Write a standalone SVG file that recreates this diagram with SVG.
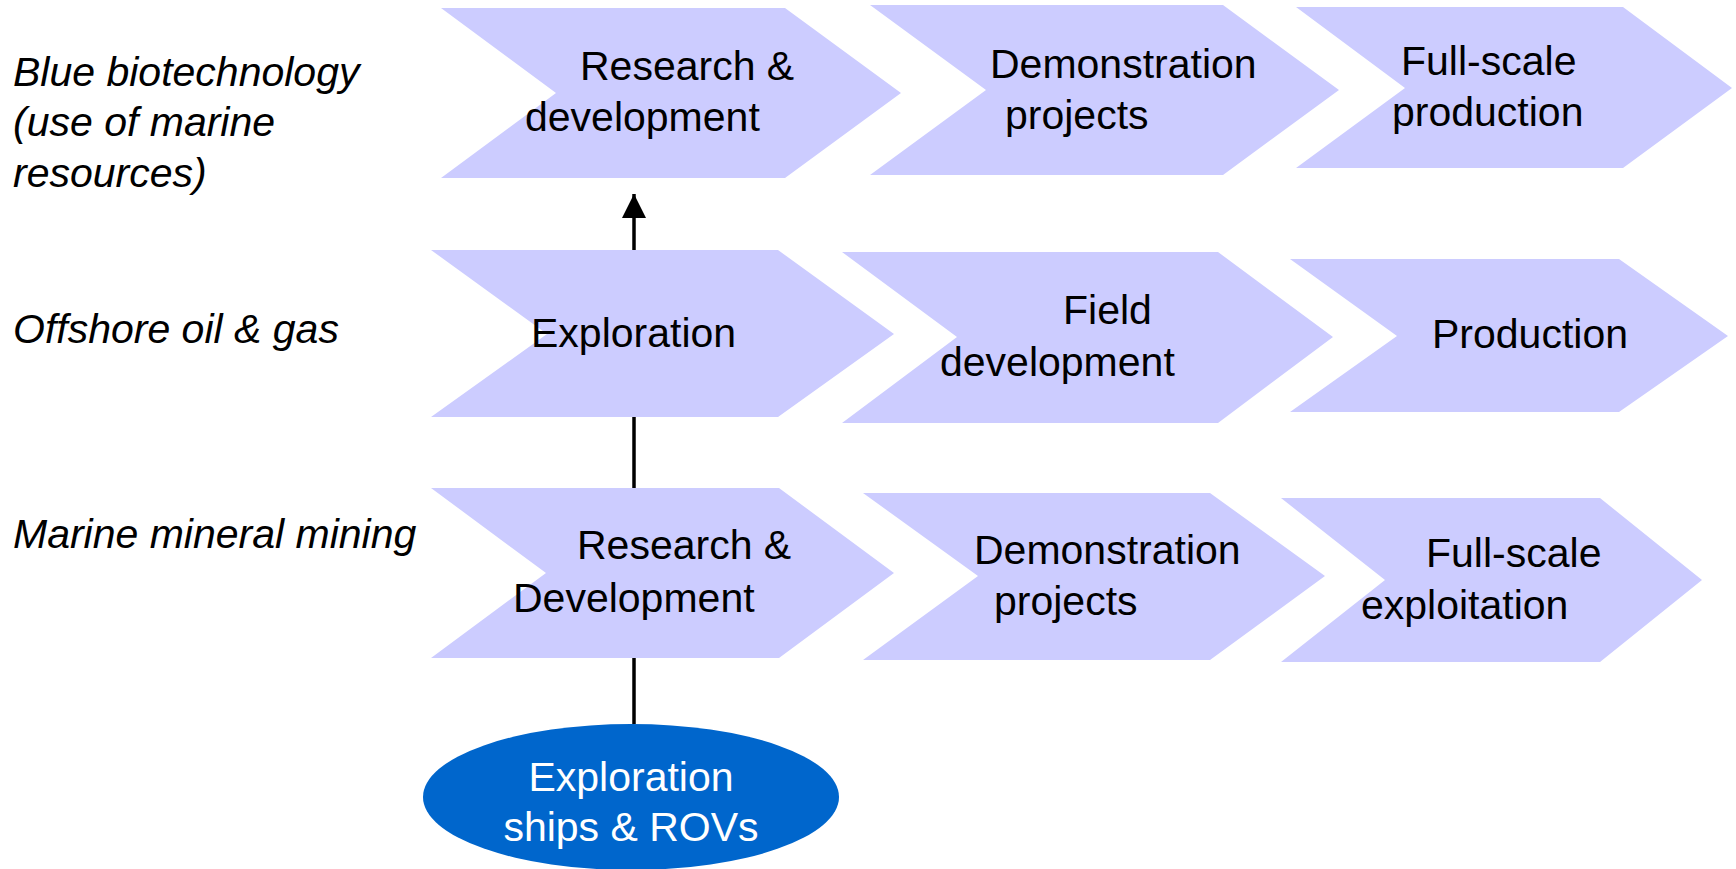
<svg xmlns="http://www.w3.org/2000/svg" width="1736" height="869" viewBox="0 0 1736 869">
<style>
.chev{fill:#ccccff;}
.t{font-family:"Liberation Sans",Arial,sans-serif;font-size:41px;fill:#000;}
.lbl{font-family:"Liberation Sans",Arial,sans-serif;font-size:41px;font-style:italic;fill:#000;}
.w{font-family:"Liberation Sans",Arial,sans-serif;font-size:41px;fill:#fff;text-anchor:middle;}
.conn{stroke:#000;stroke-width:3.5;fill:none;}
</style>
<defs>
<marker id="arr" markerUnits="userSpaceOnUse" markerWidth="24" markerHeight="24" viewBox="0 0 24 24" refX="24" refY="12" orient="auto">
<path d="M0,0 L24,12 L0,24 Z" fill="#000"/>
</marker>
</defs>
<rect width="1736" height="869" fill="#fff"/>
<g id="labels">
<text class="lbl" x="13" y="86">Blue biotechnology</text>
<text class="lbl" x="13" y="136">(use of marine</text>
<text class="lbl" x="13" y="187">resources)</text>
<text class="lbl" x="13" y="343">Offshore oil &amp; gas</text>
<text class="lbl" x="13" y="548">Marine mineral mining</text>
</g>
<g id="connectors">
<path class="conn" d="M634,724 L634,194" marker-end="url(#arr)"/>
</g>
<g id="a1"><polygon class="chev" points="441,8 785,8 901,93 785,178 441,178 556,93"/>
<text class="t" x="580" y="80">Research &amp;</text><text class="t" x="525" y="131">development</text></g>
<g id="a2"><polygon class="chev" points="870,5 1223,5 1339,90 1223,175 870,175 986,90"/>
<text class="t" x="990" y="78">Demonstration</text><text class="t" x="1005" y="129">projects</text></g>
<g id="a3"><polygon class="chev" points="1296,7 1623,7 1732,88 1623,168 1296,168 1405,88"/>
<text class="t" x="1401" y="75">Full-scale</text><text class="t" x="1392" y="126">production</text></g>
<g id="b1"><polygon class="chev" points="431,250 778,250 894,334 778,417 431,417 547,334"/>
<text class="t" x="531" y="347">Exploration</text></g>
<g id="b2"><polygon class="chev" points="842,252 1218,252 1333,337 1218,423 842,423 957,337"/>
<text class="t" x="1063" y="324">Field</text><text class="t" x="940" y="376">development</text></g>
<g id="b3"><polygon class="chev" points="1290,259 1619,259 1728,336 1619,412 1290,412 1397,336"/>
<text class="t" x="1432" y="348">Production</text></g>
<g id="c1"><polygon class="chev" points="431,488 779,488 894,573 779,658 431,658 546,573"/>
<text class="t" x="577" y="559">Research &amp;</text><text class="t" x="513" y="612">Development</text></g>
<g id="c2"><polygon class="chev" points="863,493 1210,493 1325,576 1210,660 863,660 978,576"/>
<text class="t" x="974" y="564">Demonstration</text><text class="t" x="994" y="615">projects</text></g>
<g id="c3"><polygon class="chev" points="1281,498 1600,498 1702,580 1600,662 1281,662 1385,580"/>
<text class="t" x="1426" y="567">Full-scale</text><text class="t" x="1361" y="619">exploitation</text></g>
<g id="ellipse"><ellipse cx="631" cy="797" rx="208" ry="73" fill="#0066cc"/>
<text class="w" x="631" y="791">Exploration</text><text class="w" x="631" y="841">ships &amp; ROVs</text></g>
</svg>
